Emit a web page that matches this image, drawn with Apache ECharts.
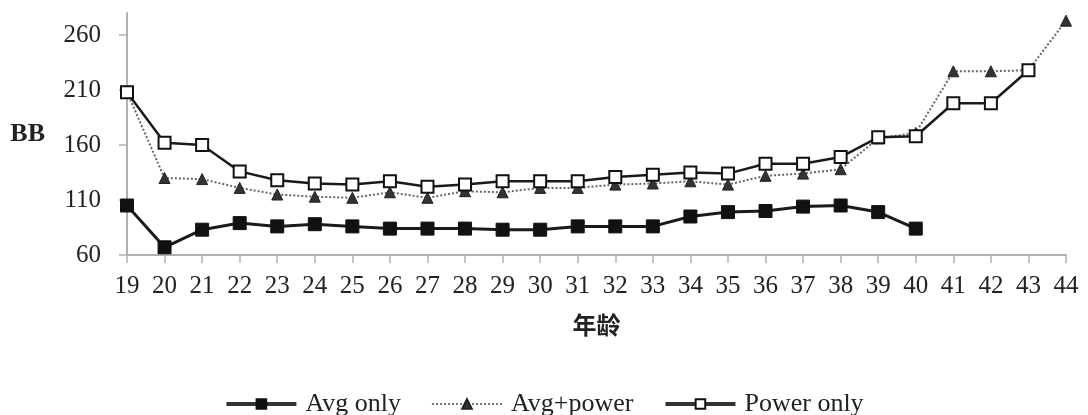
<!DOCTYPE html>
<html>
<head>
<meta charset="utf-8">
<script src="https://cdn.jsdelivr.net/npm/echarts@6/dist/echarts.min.js"></script>
<style>
  html, body { margin: 0; padding: 0; background: #fff; }
  #chart { width: 1088px; height: 415px; }
</style>
</head>
<body>
<div id="chart"></div>
<script>
// Ages on the horizontal axis
const ages = ['19','20','21','22','23','24','25','26','27','28','29','30','31','32','33','34','35','36','37','38','39','40','41','42','43','44'];

// BB by age for each group (null = no data at that age)
const avgOnly = [105, 67, 83, 89, 86, 88, 86, 84, 84, 84, 83, 83, 86, 86, 86, 95, 99, 100, 104, 105, 99, 84, null, null, null, null];
const avgPower = [208, 130, 129, 121, 115, 113, 112, 117, 112, 118, 117, 121, 121, 124, 125, 127, 124, 132, 134, 138, 166, 171, 227, 227, 228, 273];
const powerOnly = [208, 162, 160, 136, 128, 125, 124, 127, 122, 124, 127, 127, 127, 131, 133, 135, 134, 143, 143, 149, 167, 168, 198, 198, 228, null];

// Y-axis tick values
const yTicks = [60, 110, 160, 210, 260];

const serif = '"Liberation Serif", "Times New Roman", serif';
const axisGrey = '#b0b0b0';

const chart = echarts.init(document.getElementById('chart'), null, { renderer: 'canvas' });

chart.setOption({
  animation: false,
  backgroundColor: '#ffffff',
  grid: { left: 127, right: 22, top: 13, bottom: 160, containLabel: false },
  legend: {
    top: 386,
    left: 'center',
    itemWidth: 70,
    itemHeight: 12,
    itemGap: 30,
    textStyle: { fontFamily: serif, fontSize: 26, color: '#222', padding: [0, 0, 0, 4] },
    data: [
      { name: 'Avg only', lineStyle: { width: 4, color: '#333' } },
      { name: 'Avg+power', lineStyle: { width: 2, color: '#777' } },
      { name: 'Power only', lineStyle: { width: 4, color: '#333' } }
    ]
  },
  xAxis: {
    type: 'category',
    data: ages,
    boundaryGap: false,
    name: '年龄',
    nameLocation: 'middle',
    nameGap: 58,
    nameTextStyle: { fontFamily: '"Noto Sans CJK SC", sans-serif', fontSize: 24, fontWeight: 'bold', color: '#222' },
    axisLine: { lineStyle: { color: axisGrey, width: 2 } },
    axisTick: { show: true, inside: false, length: 8, lineStyle: { color: axisGrey, width: 1.5 } },
    axisLabel: { fontFamily: serif, fontSize: 25, color: '#222', margin: 19, interval: 0 },
    splitLine: { show: false }
  },
  yAxis: {
    type: 'value',
    min: 60,
    max: 280,
    interval: 50,
    name: 'BB',
    nameLocation: 'middle',
    nameRotate: 0,
    nameGap: 82,
    nameTextStyle: { fontFamily: serif, fontSize: 26, fontWeight: 'bold', color: '#222' },
    axisLine: { show: true, lineStyle: { color: axisGrey, width: 2 } },
    axisTick: { show: true, length: 8, customValues: yTicks, lineStyle: { color: axisGrey, width: 1.5 } },
    axisLabel: { fontFamily: serif, fontSize: 25, color: '#222', margin: 26, customValues: yTicks },
    splitLine: { show: false }
  },
  series: [
    {
      name: 'Avg only',
      type: 'line',
      data: avgOnly,
      symbol: 'rect',
      symbolSize: 13,
      lineStyle: { color: '#1a1a1a', width: 3 },
      itemStyle: { color: '#111', borderColor: '#111', borderWidth: 1 },
      z: 2
    },
    {
      name: 'Avg+power',
      type: 'line',
      data: avgPower,
      symbol: 'triangle',
      symbolSize: 11,
      lineStyle: { color: '#666', width: 2, type: [2, 2] },
      itemStyle: { color: '#333', borderColor: '#222', borderWidth: 1 },
      z: 3
    },
    {
      name: 'Power only',
      type: 'line',
      data: powerOnly,
      symbol: 'rect',
      symbolSize: 12,
      lineStyle: { color: '#1a1a1a', width: 2.5 },
      itemStyle: { color: '#ffffff', borderColor: '#111', borderWidth: 2 },
      z: 4
    }
  ]
});
</script>
</body>
</html>
